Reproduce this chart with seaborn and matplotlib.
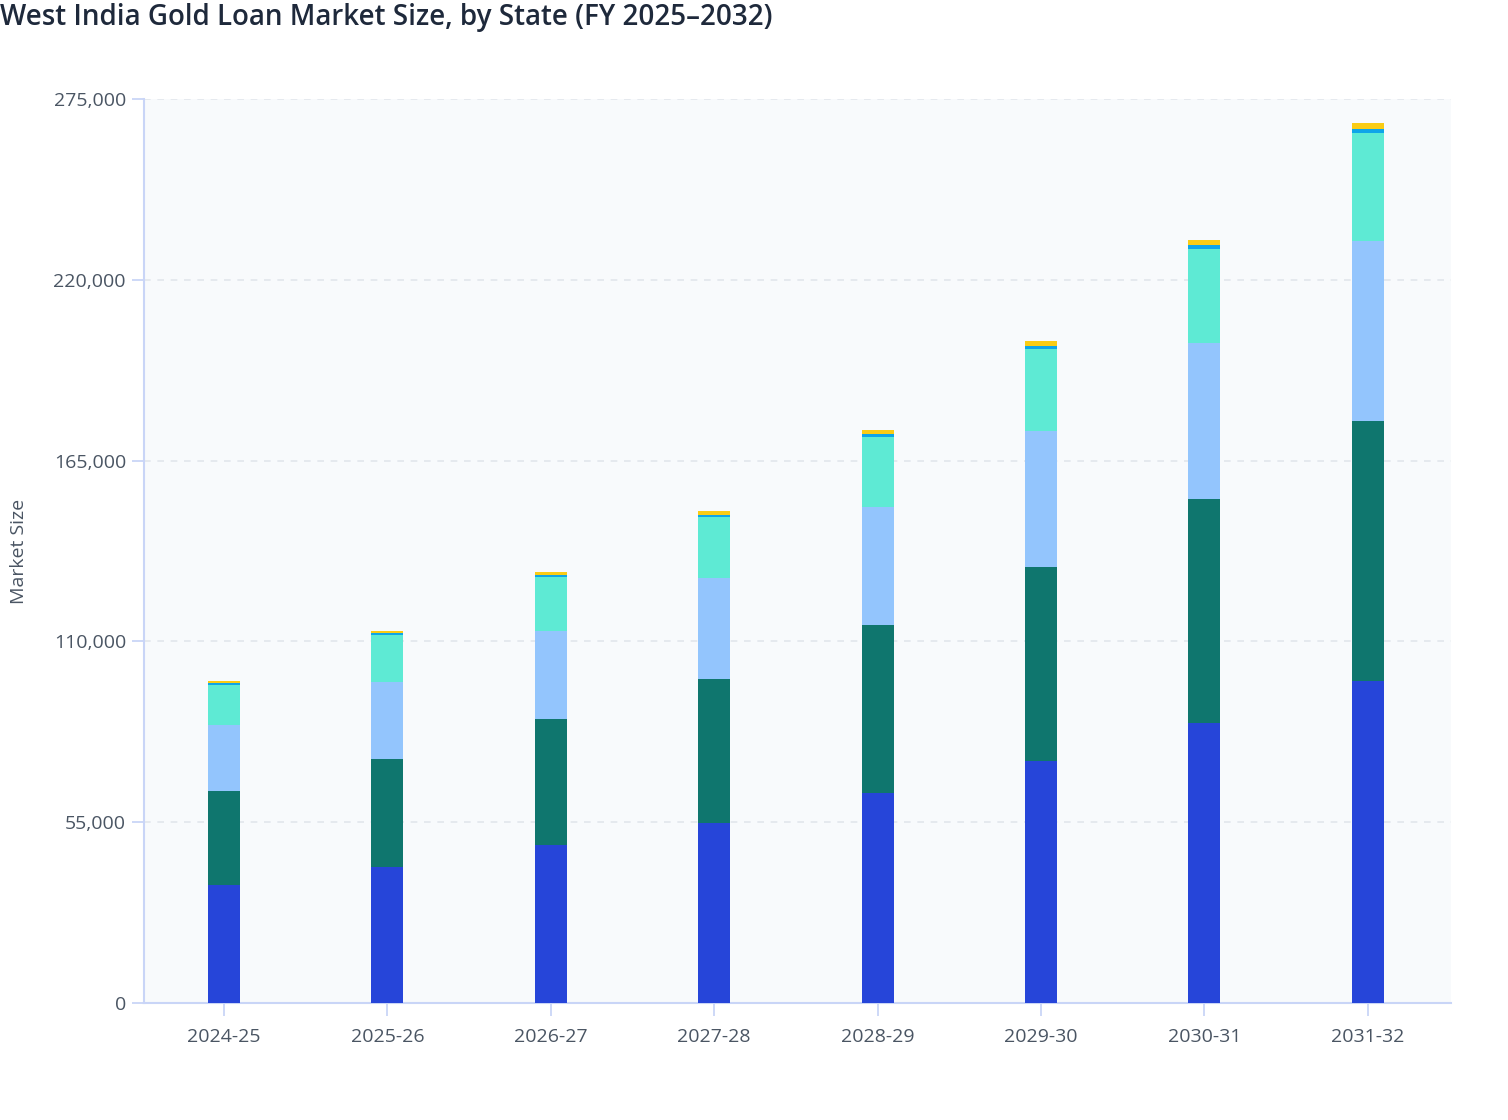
import pandas as pd
import numpy as np
import matplotlib
matplotlib.use("Agg")
import matplotlib.pyplot as plt
import seaborn as sns
from matplotlib.ticker import FuncFormatter

years = ["2024-25", "2025-26", "2026-27", "2027-28", "2028-29", "2029-30", "2030-31", "2031-32"]
seg_blue = [35900, 41370, 48070, 54760, 63890, 73620, 85180, 97960]
seg_teal = [28600, 32860, 38330, 43810, 51110, 59030, 68150, 79100]
seg_lightblue = [20070, 23430, 26770, 30730, 35900, 41370, 47460, 54740]
seg_aqua = [12260, 14300, 16430, 18560, 21300, 24950, 28600, 32900]
seg_sky = [400, 500, 600, 700, 900, 1000, 1100, 1300]
seg_yellow = [700, 800, 900, 1100, 1200, 1400, 1600, 1700]

segments = [seg_blue, seg_teal, seg_lightblue, seg_aqua, seg_sky, seg_yellow]
colors = ["#2645D9", "#0F766E", "#93C5FD", "#5EEAD4", "#0EA5E9", "#FACC15"]

sns.set_theme(style="white")
plt.rcParams['font.family'] = ['Open Sans', 'DejaVu Sans']

cum = np.cumsum(np.array(segments), axis=0)

fig = plt.figure(figsize=(15.08, 11.2), dpi=100)
ax = fig.add_axes([144/1508, 1 - 1003/1120, (1451-144)/1508, (1003-99)/1120])
ax.set_facecolor("#F8FAFC")

# draw from top layer down so lower layers cover the upper ones
for i in range(len(segments) - 1, -1, -1):
    df = pd.DataFrame({"year": years, "value": cum[i]})
    sns.barplot(data=df, x="year", y="value", color=colors[i], width=0.196,
                saturation=1, ax=ax, linewidth=0, zorder=3)

ax.set_xlim(-0.49, 7.51)
ax.set_ylim(0, 275000)
ax.set_yticks(np.arange(0, 275001, 55000))
ax.yaxis.set_major_formatter(FuncFormatter(lambda v, p: f"{int(v):,}"))
ax.grid(axis="y", color="#E2E6EC", linestyle=(0, (4, 4)), linewidth=1.2, zorder=0)
ax.grid(axis="x", visible=False)

for side in ["top", "right"]:
    ax.spines[side].set_visible(False)
for side in ["left", "bottom"]:
    ax.spines[side].set_color("#C9D5F7")
    ax.spines[side].set_linewidth(1.5)

ax.tick_params(axis="y", left=True, length=9, width=1.3, color="#C9D5F7", labelsize=14,
               labelcolor="#4A5563", pad=4)
ax.tick_params(axis="x", bottom=True, length=9, width=1.3, color="#C9D5F7", labelsize=14,
               labelcolor="#4A5563", pad=9)
ax.set_xlabel("")
ax.set_ylabel("Market Size", fontsize=14, color="#4A5563")
ax.yaxis.set_label_coords(-0.089, 0.5)

fig.text(0.0, 1 - 18/1120, "West India Gold Loan Market Size, by State (FY 2025\u20132032)",
         fontsize=20, color="#1E293B", fontweight="semibold", ha="left", va="center")

fig.savefig("out.png", dpi=100)
